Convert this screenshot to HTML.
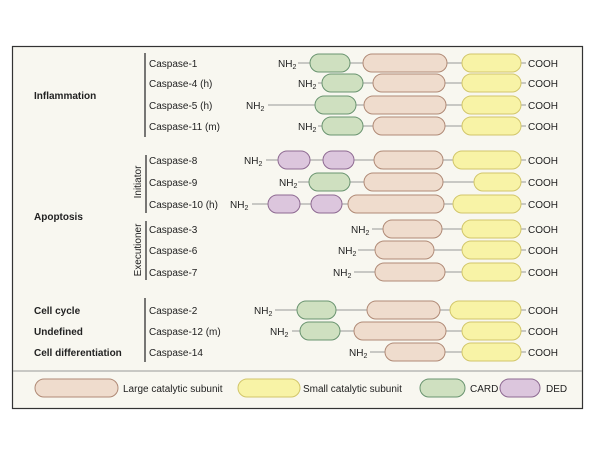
<!DOCTYPE html>
<html><head><meta charset="utf-8"><style>
body{margin:0;background:#fff}
svg{display:block;font-family:"Liberation Sans",sans-serif}
.t{font-size:10px;fill:#222}
.b{font-size:10px;font-weight:bold;fill:#222}
.ln{stroke:#999;stroke-width:1}
.c{fill:#cfe0c0;stroke:#6a9470;stroke-width:1}
.l{fill:#efdccd;stroke:#b08a76;stroke-width:1}
.s{fill:#f8f3a6;stroke:#d2c66a;stroke-width:1}
.d{fill:#dcc6dd;stroke:#8e6a92;stroke-width:1}
.bar{stroke:#222;stroke-width:1.2}
</style></head><body>
<svg width="600" height="450" viewBox="0 0 600 450">
<rect x="12.5" y="46.5" width="570" height="362" fill="#f8f7f0" stroke="#333" stroke-width="1.2"/>
<line x1="13" y1="371" x2="582" y2="371" stroke="#999"/>
<!-- left labels -->
<text class="b" x="34" y="99">Inflammation</text>
<text class="b" x="34" y="220">Apoptosis</text>
<text class="b" x="34" y="314">Cell cycle</text>
<text class="b" x="34" y="335">Undefined</text>
<text class="b" x="34" y="356">Cell differentiation</text>
<line class="bar" x1="145" y1="53" x2="145" y2="137"/>
<line class="bar" x1="146" y1="155" x2="146" y2="213"/>
<line class="bar" x1="146" y1="221" x2="146" y2="280"/>
<line class="bar" x1="145" y1="298" x2="145" y2="362"/>
<text class="t" transform="translate(141,182) rotate(-90)" text-anchor="middle">Initiator</text>
<text class="t" transform="translate(141,250) rotate(-90)" text-anchor="middle">Executioner</text>
<g class="t">
<text x="149" y="67">Caspase-1</text>
<text x="149" y="87">Caspase-4 (h)</text>
<text x="149" y="109">Caspase-5 (h)</text>
<text x="149" y="130">Caspase-11 (m)</text>
<text x="149" y="164">Caspase-8</text>
<text x="149" y="186">Caspase-9</text>
<text x="149" y="208">Caspase-10 (h)</text>
<text x="149" y="233">Caspase-3</text>
<text x="149" y="254">Caspase-6</text>
<text x="149" y="276">Caspase-7</text>
<text x="149" y="314">Caspase-2</text>
<text x="149" y="335">Caspase-12 (m)</text>
<text x="149" y="356">Caspase-14</text>
</g>
<!-- lines -->
<g class="ln">
<line x1="298" y1="63" x2="526" y2="63"/>
<line x1="318" y1="83" x2="526" y2="83"/>
<line x1="268" y1="105" x2="526" y2="105"/>
<line x1="318" y1="126" x2="526" y2="126"/>
<line x1="266" y1="160" x2="526" y2="160"/>
<line x1="298" y1="182" x2="526" y2="182"/>
<line x1="252" y1="204" x2="526" y2="204"/>
<line x1="372" y1="229" x2="526" y2="229"/>
<line x1="358" y1="250" x2="526" y2="250"/>
<line x1="354" y1="272" x2="526" y2="272"/>
<line x1="275" y1="310" x2="526" y2="310"/>
<line x1="292" y1="331" x2="526" y2="331"/>
<line x1="370" y1="352" x2="526" y2="352"/>
</g>
<!-- NH2 and COOH -->
<g class="t">
<text x="278" y="67">NH<tspan font-size="7" dy="2">2</tspan></text>
<text x="298" y="87">NH<tspan font-size="7" dy="2">2</tspan></text>
<text x="246" y="109">NH<tspan font-size="7" dy="2">2</tspan></text>
<text x="298" y="130">NH<tspan font-size="7" dy="2">2</tspan></text>
<text x="244" y="164">NH<tspan font-size="7" dy="2">2</tspan></text>
<text x="279" y="186">NH<tspan font-size="7" dy="2">2</tspan></text>
<text x="230" y="208">NH<tspan font-size="7" dy="2">2</tspan></text>
<text x="351" y="233">NH<tspan font-size="7" dy="2">2</tspan></text>
<text x="338" y="254">NH<tspan font-size="7" dy="2">2</tspan></text>
<text x="333" y="276">NH<tspan font-size="7" dy="2">2</tspan></text>
<text x="254" y="314">NH<tspan font-size="7" dy="2">2</tspan></text>
<text x="270" y="335">NH<tspan font-size="7" dy="2">2</tspan></text>
<text x="349" y="356">NH<tspan font-size="7" dy="2">2</tspan></text>
<text x="528" y="67">COOH</text><text x="528" y="87">COOH</text><text x="528" y="109">COOH</text><text x="528" y="130">COOH</text>
<text x="528" y="164">COOH</text><text x="528" y="186">COOH</text><text x="528" y="208">COOH</text>
<text x="528" y="233">COOH</text><text x="528" y="254">COOH</text><text x="528" y="276">COOH</text>
<text x="528" y="314">COOH</text><text x="528" y="335">COOH</text><text x="528" y="356">COOH</text>
</g>
<!-- pills -->
<rect class="c" x="310" y="54" width="40" height="18" rx="9"/><rect class="l" x="363" y="54" width="84" height="18" rx="9"/><rect class="s" x="462" y="54" width="59" height="18" rx="9"/>
<rect class="c" x="322" y="74" width="41" height="18" rx="9"/><rect class="l" x="373" y="74" width="72" height="18" rx="9"/><rect class="s" x="462" y="74" width="59" height="18" rx="9"/>
<rect class="c" x="315" y="96" width="41" height="18" rx="9"/><rect class="l" x="364" y="96" width="82" height="18" rx="9"/><rect class="s" x="462" y="96" width="59" height="18" rx="9"/>
<rect class="c" x="322" y="117" width="41" height="18" rx="9"/><rect class="l" x="373" y="117" width="72" height="18" rx="9"/><rect class="s" x="462" y="117" width="59" height="18" rx="9"/>
<rect class="d" x="278" y="151" width="32" height="18" rx="9"/><rect class="d" x="323" y="151" width="31" height="18" rx="9"/><rect class="l" x="374" y="151" width="69" height="18" rx="9"/><rect class="s" x="453" y="151" width="68" height="18" rx="9"/>
<rect class="c" x="309" y="173" width="41" height="18" rx="9"/><rect class="l" x="364" y="173" width="79" height="18" rx="9"/><rect class="s" x="474" y="173" width="47" height="18" rx="9"/>
<rect class="d" x="268" y="195" width="32" height="18" rx="9"/><rect class="d" x="311" y="195" width="31" height="18" rx="9"/><rect class="l" x="348" y="195" width="96" height="18" rx="9"/><rect class="s" x="453" y="195" width="68" height="18" rx="9"/>
<rect class="l" x="383" y="220" width="59" height="18" rx="9"/><rect class="s" x="462" y="220" width="59" height="18" rx="9"/>
<rect class="l" x="375" y="241" width="59" height="18" rx="9"/><rect class="s" x="462" y="241" width="59" height="18" rx="9"/>
<rect class="l" x="375" y="263" width="70" height="18" rx="9"/><rect class="s" x="462" y="263" width="59" height="18" rx="9"/>
<rect class="c" x="297" y="301" width="39" height="18" rx="9"/><rect class="l" x="367" y="301" width="73" height="18" rx="9"/><rect class="s" x="450" y="301" width="71" height="18" rx="9"/>
<rect class="c" x="300" y="322" width="40" height="18" rx="9"/><rect class="l" x="354" y="322" width="92" height="18" rx="9"/><rect class="s" x="462" y="322" width="59" height="18" rx="9"/>
<rect class="l" x="385" y="343" width="60" height="18" rx="9"/><rect class="s" x="462" y="343" width="59" height="18" rx="9"/>
<!-- legend -->
<rect class="l" x="35" y="379" width="83" height="18" rx="9"/><text class="t" x="123" y="392">Large catalytic subunit</text>
<rect class="s" x="238" y="379" width="62" height="18" rx="9"/><text class="t" x="303" y="392">Small catalytic subunit</text>
<rect class="c" x="420" y="379" width="45" height="18" rx="9"/><text class="t" x="470" y="392">CARD</text>
<rect class="d" x="500" y="379" width="40" height="18" rx="9"/><text class="t" x="546" y="392">DED</text>
</svg>
</body></html>
